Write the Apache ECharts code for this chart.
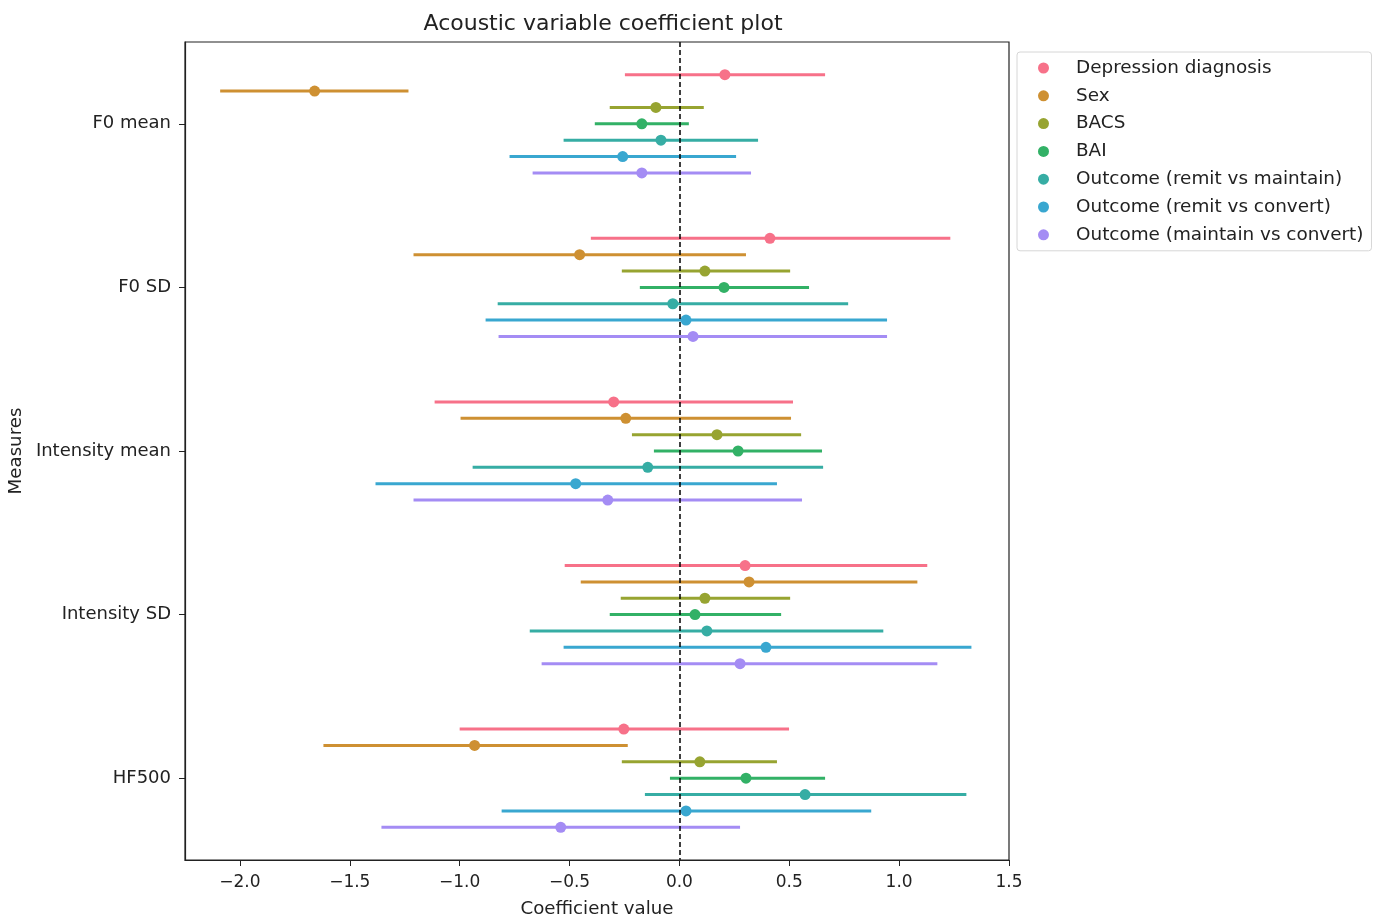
<!DOCTYPE html>
<html>
<head>
<meta charset="utf-8">
<script src="https://cdn.jsdelivr.net/npm/echarts@6/dist/echarts.min.js"></script>
<style>html,body{margin:0;padding:0;background:#fff}#c{width:1382px;height:918px}</style>
</head>
<body>
<div id="c"></div>
<script>
const categories = ['F0 mean', 'F0 SD', 'Intensity mean', 'Intensity SD', 'HF500'];
const groupNames = ['Depression diagnosis', 'Sex', 'BACS', 'BAI', 'Outcome (remit vs maintain)', 'Outcome (remit vs convert)', 'Outcome (maintain vs convert)'];
const groupColors = ['#f77189', '#ce9032', '#97a431', '#32b166', '#36ada4', '#39a7d0', '#a48cf4'];
const xTicks = [-2.0, -1.5, -1.0, -0.5, 0.0, 0.5, 1.0, 1.5];

const coefDepression = [0.207, 0.412, -0.299, 0.299, -0.253];
const loDepression   = [-0.248, -0.403, -1.114, -0.522, -1.0];
const hiDepression   = [0.663, 1.233, 0.517, 1.128, 0.499];

const coefSex = [-1.66, -0.454, -0.244, 0.317, -0.932];
const loSex   = [-2.09, -1.21, -0.996, -0.449, -1.62];
const hiSex   = [-1.233, 0.303, 0.508, 1.083, -0.235];

const coefBACS = [-0.107, 0.116, 0.171, 0.116, 0.093];
const loBACS   = [-0.317, -0.262, -0.216, -0.267, -0.262];
const hiBACS   = [0.111, 0.504, 0.554, 0.504, 0.444];

const coefBAI = [-0.171, 0.203, 0.267, 0.071, 0.303];
const loBAI   = [-0.385, -0.18, -0.116, -0.317, -0.043];
const hiBAI   = [0.043, 0.59, 0.649, 0.463, 0.663];

const coefRemitMaintain = [-0.084, -0.03, -0.144, 0.125, 0.572];
const loRemitMaintain   = [-0.527, -0.827, -0.941, -0.681, -0.157];
const hiRemitMaintain   = [0.358, 0.768, 0.654, 0.928, 1.306];

const coefRemitConvert = [-0.258, 0.03, -0.472, 0.394, 0.03];
const loRemitConvert   = [-0.773, -0.882, -1.383, -0.527, -0.809];
const hiRemitConvert   = [0.258, 0.945, 0.444, 1.329, 0.873];

const coefMaintainConvert = [-0.171, 0.062, -0.326, 0.276, -0.54];
const loMaintainConvert   = [-0.668, -0.823, -1.21, -0.627, -1.356];
const hiMaintainConvert   = [0.326, 0.945, 0.558, 1.174, 0.276];

const allCoef = [coefDepression, coefSex, coefBACS, coefBAI, coefRemitMaintain, coefRemitConvert, coefMaintainConvert];
const allLo = [loDepression, loSex, loBACS, loBAI, loRemitMaintain, loRemitConvert, loMaintainConvert];
const allHi = [hiDepression, hiSex, hiBACS, hiBAI, hiRemitMaintain, hiRemitConvert, hiMaintainConvert];

const FONT = 'DejaVu Sans';
const dodge = 0.1;

const series = [];
groupNames.forEach((name, g) => {
  const off = (g - 3) * dodge;
  const barData = categories.map((c, i) => [allLo[g][i], allHi[g][i], i + off]);
  const ptData = categories.map((c, i) => [allCoef[g][i], i + off]);
  series.push({
    type: 'custom',
    name: name,
    xAxisIndex: 0,
    yAxisIndex: 1,
    data: barData,
    encode: { x: [0, 1], y: 2 },
    itemStyle: { color: groupColors[g] },
    renderItem: function (params, api) {
      const p1 = api.coord([api.value(0), api.value(2)]);
      const p2 = api.coord([api.value(1), api.value(2)]);
      return {
        type: 'line',
        shape: { x1: p1[0], y1: p1[1], x2: p2[0], y2: p2[1] },
        style: { stroke: groupColors[g], lineWidth: 3 }
      };
    },
    z: 2
  });
  series.push({
    type: 'scatter',
    name: name,
    xAxisIndex: 0,
    yAxisIndex: 1,
    data: ptData,
    symbol: 'circle',
    symbolSize: 11,
    itemStyle: { color: groupColors[g], opacity: 1 },
    z: 3,
    markLine: g === 0 ? {
      silent: true,
      symbol: ['none', 'none'],
      label: { show: false },
      lineStyle: { color: '#000', type: [5, 3], width: 1.5 },
      data: [{ xAxis: 0 }],
      z: 5
    } : undefined
  });
});

const minus = v => String(v).replace('-', '\u2212');

const chart = echarts.init(document.getElementById('c'));
chart.setOption({
  animation: false,
  backgroundColor: '#fff',
  title: {
    text: 'Acoustic variable coefficient plot',
    left: 598,
    textAlign: 'center',
    top: 8,
    textStyle: { fontFamily: FONT, fontSize: 22, fontWeight: 'normal', color: '#222' }
  },
  grid: { left: 185, right: 373, top: 42, bottom: 58, containLabel: false, outerBoundsMode: 'none' },
  legend: {
    orient: 'vertical',
    left: 1017,
    top: 52,
    padding: [6, 8, 6, 21],
    itemWidth: 11,
    itemHeight: 11,
    itemGap: 7.8,
    borderColor: '#d6d6d6',
    borderWidth: 1,
    borderRadius: 3,
    backgroundColor: '#fff',
    data: groupNames.map(n => ({ name: n, icon: 'circle' })),
    textStyle: { fontFamily: FONT, fontSize: 18.4, color: '#222', lineHeight: 20, padding: [0, 0, 0, 22] }
  },
  xAxis: {
    type: 'value',
    min: -2.25,
    max: 1.5,
    name: 'Coefficient value',
    nameLocation: 'middle',
    nameGap: 40,
    nameTextStyle: { fontFamily: FONT, fontSize: 18.2, color: '#222' },
    axisLine: { show: true, onZero: false, lineStyle: { color: '#222', width: 1.2 } },
    axisTick: { show: true, length: 6, customValues: xTicks, lineStyle: { color: '#222' } },
    axisLabel: {
      fontFamily: FONT, fontSize: 17, color: '#222', margin: 14,
      customValues: xTicks,
      formatter: v => minus(Number(v).toFixed(1))
    },
    splitLine: { show: false }
  },
  yAxis: [
    {
      type: 'category',
      data: categories,
      inverse: true,
      name: 'Measures',
      nameLocation: 'middle',
      nameGap: 160,
      nameRotate: 90,
      nameTextStyle: { fontFamily: FONT, fontSize: 18.2, color: '#222' },
      axisLine: { show: true, onZero: false, lineStyle: { color: '#222', width: 1.2 } },
      axisTick: { show: true, alignWithLabel: true, length: 6, lineStyle: { color: '#222' } },
      axisLabel: { fontFamily: FONT, fontSize: 18, color: '#222', margin: 14 },
      splitLine: { show: false }
    },
    {
      type: 'value',
      min: -0.5,
      max: 4.5,
      inverse: true,
      show: false,
      axisLine: { onZero: false }
    }
  ],
  graphic: [
    {
      type: 'rect',
      shape: { x: 185, y: 42, width: 824, height: 818 },
      style: { fill: 'none', stroke: '#222', lineWidth: 1.2 },
      silent: true,
      z: 10
    }
  ],
  series: series
});
</script>
</body>
</html>
